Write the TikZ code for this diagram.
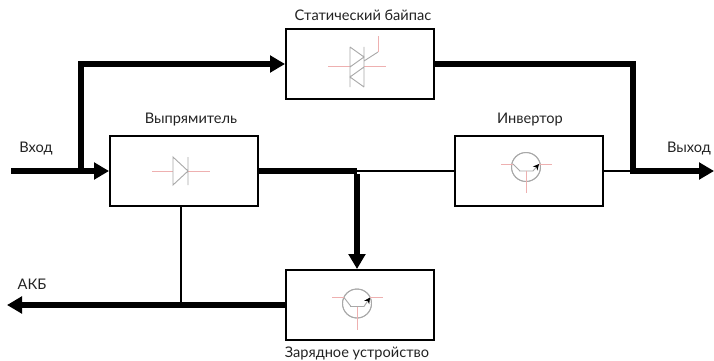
\documentclass[tikz,border=0pt]{standalone}
\usepackage{fontspec}
\setmainfont{Lato}
\usetikzlibrary{arrows.meta}
\definecolor{txt}{HTML}{222222}
\definecolor{sym}{HTML}{A8A8A8}
\definecolor{leadcol}{HTML}{EEB0B0}
\tikzset{
  x=1pt,y=-1pt,
  unit/.style={draw=black,line width=2pt,fill=white,minimum width=148pt,minimum height=70pt,inner sep=0pt},
  lbl/.style={font=\fontsize{14.6pt}{16pt}\selectfont,text=txt,inner sep=0pt},
  power/.style={line width=5.6pt,miter limit=10},
  powerarrow/.style={power,-{Triangle[length=15pt,width=16.5pt]}},
  signal/.style={line width=1.5pt},
  symline/.style={draw=sym,line width=0.9pt},
  leadline/.style={draw=leadcol,line width=1pt},
}
% #1,#2 = circle centre, #3 = height of the collector/emitter leads, #4 = height of the base bar
\newcommand{\transistor}[4]{%
  \begin{scope}[shift={(#1,#2)}]
    \draw[symline] (0,0) circle[radius=14.5];
    \draw[symline] (-7,#4) -- (7,#4) (-13,#3) -- (-6,#4);
    \draw[symline,-{Stealth[length=6pt,width=6pt,color=black]}] (7,#4) -- (13,#3);
    \draw[symline] (0,0) circle[radius=14.5];
    \draw[leadline] (-25,#3) -- (-13,#3) (13,#3) -- (26,#3) (0,#4) -- (0,26);
  \end{scope}}
\begin{document}
\begin{tikzpicture}
\useasboundingbox (0,0) rectangle (714,361);
\node[unit] (bypass) at (360,64) {};
\node[unit] (rect) at (184,171) {};
\node[unit] (inv) at (529,171) {};
\node[unit] (chg) at (360,305) {};
\coordinate (in) at (11,171);
\coordinate (out) at (714,171);
\coordinate (batt) at (7,305);
\coordinate (tap) at (81,171);
\coordinate (merge) at (633,171);
\coordinate (dc) at (357,171);

\draw[signal] (dc) -- (inv.west);
\draw[signal] (inv.east) -- (merge);
\draw[signal] (rect.south -| 181,0) -- (181,305);
\draw[powerarrow] (in) -- (rect.west);
\draw[powerarrow] (tap) -- (tap |- bypass.west) -- (bypass.west);
\draw[power] (bypass.east) -- (bypass.east -| merge) -- (merge);
\draw[powerarrow] ([xshift=-2.8pt]merge) -- (out);
\draw[power] (rect.east) -- (dc);
\draw[powerarrow] ([yshift=-2.8pt]dc) -- (dc |- chg.north);
\draw[powerarrow] (chg.west) -- (batt);

% diode
\draw[leadline] (152,171) -- (173,171) (188,171) -- (210,171);
\draw[symline] (173,157) -- (173,185) -- (188,171) -- cycle (188,157) -- (188,185);
% thyristor pair
\draw[leadline] (328,66) -- (350,66) (364,66) -- (386,66) (378,52) -- (378,36);
\draw[symline] (350,47) -- (350,87) (364,47) -- (364,87)
  (350,47) -- (364,57) -- (350,67) (364,67) -- (350,77) -- (364,87)
  (364,61) -- (378,52);
\transistor{526}{167}{-3}{4}
\transistor{357}{303.5}{-6}{3}

\node[lbl] (lbypass) at (363,15) {Статический байпас};
\node[lbl] (lrect) at (191,120) {Выпрямитель};
\node[lbl] (linv) at (530,120) {Инвертор};
\node[lbl] (lchg) at (357,353) {Зарядное устройство};
\node[lbl] (lin) at (36,149) {Вход};
\node[lbl] (lout) at (689,149) {Выход};
\node[lbl] (lbatt) at (32,284) {АКБ};
\end{tikzpicture}
\end{document}
